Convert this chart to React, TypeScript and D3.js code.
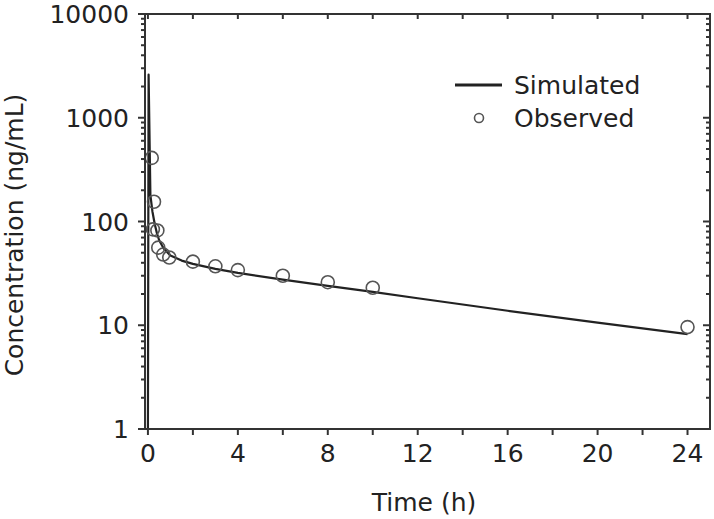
import React from "react";
import * as d3 from "d3";

const simTime = [0, 0.03, 0.11, 0.2, 0.3, 0.4, 0.5, 0.7, 1, 1.5, 2, 3, 4, 6, 8, 10, 12, 16, 20, 24];
const simConc = [1, 2600, 180, 125, 95, 77, 66, 55, 47, 42, 39, 35, 32, 27.5, 24, 21, 18.2, 13.8, 10.6, 8.2];

const obsTime = [0.17, 0.27, 0.22, 0.42, 0.46, 0.68, 0.95, 2, 3, 4, 6, 8, 10, 24];
const obsConc = [410, 155, 84, 82, 56, 48, 45, 41, 37, 34, 30, 26, 23, 9.6];

const xMajorTicks = [0, 4, 8, 12, 16, 20, 24];
const xMinorTicks = [2, 6, 10, 14, 18, 22];
const yMajorTicks = [1, 10, 100, 1000, 10000];

const legendLabels = ["Simulated", "Observed"];

const W = 714;
const H = 519;
const FONT = "DejaVu Sans, sans-serif";
const INK = "#222";

export default function App() {
  const left = 145, right = 710, top = 14, bottom = 429;
  const x = d3.scaleLinear().domain([-0.13, 25]).range([left, right]);
  const y = d3.scaleLog().domain([1, 10000]).range([bottom, top]);

  const yMinor: number[] = [];
  for (let d = 1; d < 10000; d *= 10) {
    for (let k = 2; k <= 9; k++) yMinor.push(d * k);
  }

  const line = d3
    .line<number>()
    .x((_, i) => x(simTime[i]))
    .y((v) => y(v));

  const simPath = line(simConc) || "";

  return (
    <svg width={W} height={H} style={{ position: "absolute", left: 0, top: 0, background: "#fff" }}>
      <defs>
        <clipPath id="plot">
          <rect x={left} y={top} width={right - left} height={bottom - top} />
        </clipPath>
      </defs>
      <rect x={0} y={0} width={W} height={H} fill="#fff" />

      {/* simulated line */}
      <path d={simPath} fill="none" stroke={INK} strokeWidth={2.2} clipPath="url(#plot)" strokeLinejoin="round" />

      {/* observed points */}
      {obsTime.map((t, i) => (
        <circle key={i} cx={x(t)} cy={y(obsConc[i])} r={6.5} fill="none" stroke="#555" strokeWidth={1.6} />
      ))}

      {/* frame */}
      <rect x={left} y={top} width={right - left} height={bottom - top} fill="none" stroke="#333" strokeWidth={2} />

      {/* bottom ticks (outward) and top ticks (inward) */}
      {xMajorTicks.concat(xMinorTicks).map((t) => (
        <g key={"xt" + t}>
          <line x1={x(t)} x2={x(t)} y1={bottom} y2={bottom + 6} stroke="#333" strokeWidth={2} />
          <line x1={x(t)} x2={x(t)} y1={top} y2={top + 5} stroke="#333" strokeWidth={2} />
        </g>
      ))}
      {xMajorTicks.map((t) => (
        <text key={"xl" + t} x={x(t)} y={462} textAnchor="middle" fontFamily={FONT} fontSize={25} fill={INK}>
          {t}
        </text>
      ))}

      {/* y ticks */}
      {yMajorTicks.map((v) => (
        <g key={"ym" + v}>
          <line x1={left - 7} x2={left} y1={y(v)} y2={y(v)} stroke="#333" strokeWidth={2} />
          <line x1={right - 7} x2={right} y1={y(v)} y2={y(v)} stroke="#333" strokeWidth={2} />
          <text x={129} y={y(v) + 9} textAnchor="end" fontFamily={FONT} fontSize={25} fill={INK}>
            {v}
          </text>
        </g>
      ))}
      {yMinor.map((v) => (
        <g key={"yn" + v}>
          <line x1={left - 4} x2={left} y1={y(v)} y2={y(v)} stroke="#333" strokeWidth={2} />
          <line x1={right - 4} x2={right} y1={y(v)} y2={y(v)} stroke="#333" strokeWidth={2} />
        </g>
      ))}

      {/* axis titles */}
      <text x={424} y={511} textAnchor="middle" fontFamily={FONT} fontSize={25} fill={INK}>
        Time (h)
      </text>
      <text
        transform={`translate(23, 235) rotate(-90)`}
        textAnchor="middle"
        fontFamily={FONT}
        fontSize={25}
        fill={INK}
      >
        Concentration (ng/mL)
      </text>

      {/* legend */}
      <line x1={455} x2={502} y1={85} y2={85} stroke={INK} strokeWidth={3} />
      <text x={514} y={94} fontFamily={FONT} fontSize={25} fill={INK}>
        {legendLabels[0]}
      </text>
      <circle cx={479} cy={118} r={4.5} fill="none" stroke="#555" strokeWidth={1.6} />
      <text x={514} y={127} fontFamily={FONT} fontSize={25} fill={INK}>
        {legendLabels[1]}
      </text>
    </svg>
  );
}
